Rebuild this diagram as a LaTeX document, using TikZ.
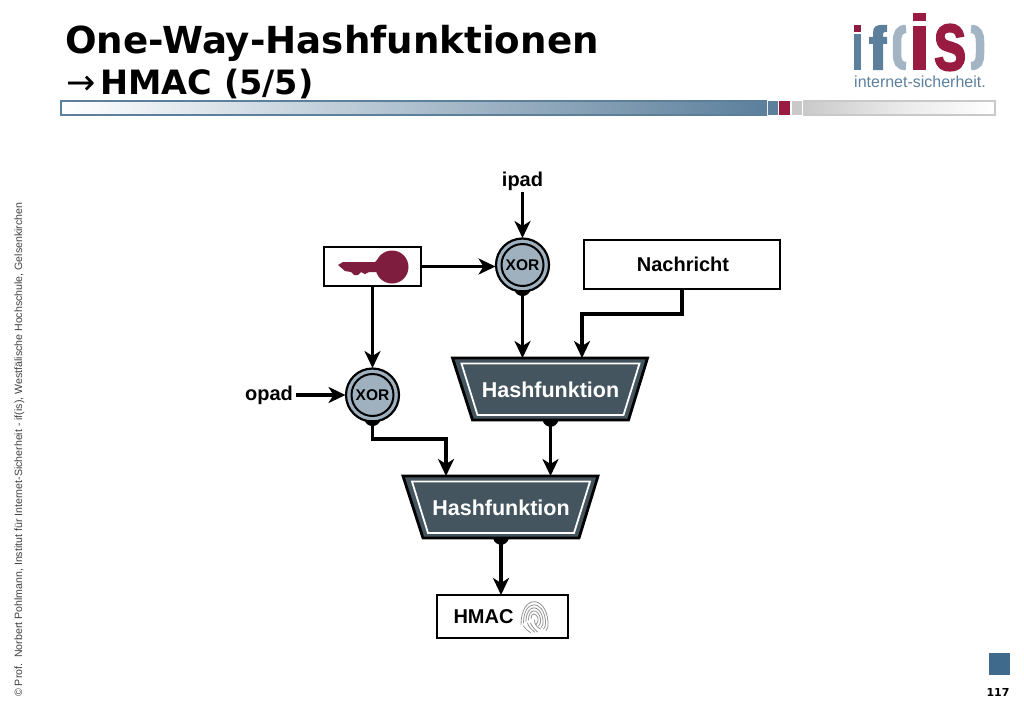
\documentclass[tikz,border=0pt]{standalone}
\usepackage{fontspec}
\setmainfont{Liberation Sans}
\newfontfamily\titlefont{DejaVu Sans}
\newfontfamily\logofont[BoldFeatures={FakeBold=1.5}]{Liberation Sans}
\usetikzlibrary{arrows.meta}
\definecolor{steel}{HTML}{5C7F9C}
\definecolor{steeld}{HTML}{3F6A8C}
\definecolor{crim}{HTML}{9A1B42}
\definecolor{keyc}{HTML}{7F1D3F}
\definecolor{paren}{HTML}{A3B5C4}
\definecolor{hashc}{HTML}{45555F}
\definecolor{xorc}{HTML}{9FB0BF}
\definecolor{barg}{HTML}{C9C9C9}
\tikzset{
  conn/.style={line width=3.6pt,draw=black,-{Stealth[length=17pt,width=16pt,inset=5pt]}},
  plainbox/.style={draw=black,line width=2.4pt,fill=white,inner sep=0pt,outer sep=0pt,anchor=north west},
  lbl/.style={font=\fontsize{20}{20}\selectfont\bfseries,inner sep=0pt},
  hashtxt/.style={font=\fontsize{21.5}{21.5}\selectfont\bfseries,text=white,inner sep=0pt},
  xortxt/.style={font=\fontsize{15.5}{15.5}\selectfont\bfseries,inner sep=0pt,outer sep=0pt},
  foot/.style={fill=black,draw=none},
  finger/.style={draw=black!42,line width=0.8pt,line cap=round},
}
\newcommand{\xorgate}[3]{%
  \fill[xorc] (#2,#3) circle (26);
  \draw[line width=2.2pt] (#2,#3) circle (26.5);
  \draw[line width=2pt] (#2,#3) circle (21);
  \node[xortxt,minimum size=54pt,circle] (#1) at (#2,#3) {XOR};
  \fill[foot] (#2-8,#3+25) .. controls (#2-6,#3+33) and (#2+6,#3+33) .. (#2+8,#3+25) -- cycle;
}
\newcommand{\hashblock}[3]{%
  \begin{scope}[shift={(#2,#3)}]
    \fill[hashc,draw=black,line width=2.8pt,line join=miter] (403,476) -- (598,476) -- (579,538) -- (423,538) -- cycle;
    \draw[white,line width=1.8pt] (412,481.5) -- (590,481.5) -- (574,533) -- (428,533) -- cycle;
    \node[hashtxt] (#1) at (501,508) {Hashfunktion};
    \coordinate (#1top) at (501,476);
    \coordinate (#1bot) at (501,538);
    \fill[foot] (493,538) .. controls (495,547) and (507,547) .. (509,538) -- cycle;
  \end{scope}
}
\begin{document}
\begin{tikzpicture}[x=1pt,y=-1pt]
\useasboundingbox (0,0) rectangle (1024,709);
% title
\node[anchor=base west,inner sep=0pt,font=\titlefont\fontsize{37.2}{37.2}\selectfont\bfseries] (title) at (65,53) {One-Way-Hashfunktionen};
\node[anchor=base west,inner sep=0pt,font=\titlefont\fontsize{33.5}{33.5}\selectfont\bfseries] (subtitle) at (66,94) {{\mdseries\fontsize{35}{35}\selectfont→}\kern5pt HMAC (5/5)};
% bar
\shade[left color=white,right color=steel] (61,101) rectangle (767,115);
\fill[steel] (768,101) rectangle (778,115);
\fill[crim] (779,101) rectangle (790,115);
\fill[barg] (792,101) rectangle (802,115);
\shade[left color=barg,right color=white,middle color=white!60!barg] (803,101) rectangle (995,115);
\draw[steel,line width=1.3pt] (767,101) -- (61,101) -- (61,115) -- (767,115);
\draw[barg,line width=1.3pt] (803,101) -- (995,101) -- (995,115) -- (803,115);
% logo
\fill[steel] (854,34) rectangle (860.5,70);
\fill[keyc!50!crim] (854,25) rectangle (860.5,32);
\fill[steel] (873,70) -- (873,44) -- (869,44) -- (869,37) -- (873,37) -- (873,33) .. controls (873,27) and (876,25) .. (881,25) -- (887,25) -- (887,32) -- (885,32) .. controls (883.5,32) and (883,33) .. (883,35) -- (883,37) -- (887,37) -- (887,44) -- (883,44) -- (883,70) -- cycle;
\draw[paren,line width=8.5pt] (906,29) .. controls (899,29) and (897,34) .. (897,42) -- (897,53) .. controls (897,62) and (899,66) .. (906,66);
\fill[crim] (913,13) rectangle (926,21);
\fill[crim] (913,26) rectangle (926,70);
\node[inner sep=0pt,text=crim,font=\logofont\bfseries] (logos) at (950,47.5) {\resizebox{34pt}{46pt}{s}};
\draw[paren,line width=8.5pt] (971,29) .. controls (978,29) and (980,34) .. (980,42) -- (980,53) .. controls (980,62) and (978,66) .. (971,66);
\node[anchor=base west,inner sep=0pt,text=steeld!85!white,font=\fontsize{16}{16}\selectfont] (logot) at (854,87) {internet-sicherheit.};
% footer
\node[rotate=90,anchor=base west,inner sep=0pt,text=black!75,font=\fontsize{10.6}{10.6}\selectfont] (foot) at (22,697) {© Prof.\ \ Norbert Pohlmann, Institut für Internet-Sicherheit - if(is), Westfälische Hochschule, Gelsenkirchen};
% page
\fill[steeld] (989,653) rectangle (1010,675);
\node[inner sep=0pt,font=\titlefont\fontsize{11}{11}\selectfont\bfseries] (page) at (998,692) {117};
% labels
\node[lbl] (ipad) at (522.5,181.5) {ipad};
\node[lbl] (opad) at (269,395) {opad};
% boxes
\node[plainbox,minimum width=97pt,minimum height=39pt] (key) at (324,247) {};
\node[plainbox,minimum width=196pt,minimum height=49pt,font=\fontsize{20}{20}\selectfont\bfseries] (msg) at (584,240) {\kern2pt Nachricht};
\node[plainbox,minimum width=131pt,minimum height=43pt] (hmacbox) at (437,595) {};
\node[lbl] (hmac) at (483.5,617) {HMAC};
% key glyph
\fill[keyc] (392,267) circle (16.5);
\fill[keyc] (338,265) -- (343,262) -- (375,262) -- (378,259) -- (385,259) -- (385,275) -- (378,272) -- (369,272) -- (365,274) -- (361,272) -- (358,275) -- (354,275) -- (351,272) -- (345,271) -- cycle;
% gates
\xorgate{xa}{522.5}{265}
\xorgate{xb}{372.5}{395}
\hashblock{ha}{49.5}{-118}
\hashblock{hb}{0}{0}
% fingerprint
\begin{scope}[shift={(534.5,617)}]
\foreach \r in {2.5,5,7.5,10,12.5}{
  \draw[finger] ({-\r-1},{\r*0.6}) .. controls ({-\r-1},{-\r*1.8}) and ({\r-1},{-\r*1.8}) .. ({\r+1},{\r*0.4}) .. controls ({\r+1.5},{\r*0.6+3}) and ({\r},{\r*0.6+5}) .. ({\r-1},{\r*0.6+6});
}
\draw[finger] (-7,6) .. controls (-6,10) and (-3,12) .. (0,15);
\draw[finger] (-4,6) .. controls (-3,9) and (0,12) .. (3,15);
\draw[finger] (-11,9) .. controls (-9,12) and (-7,14) .. (-4,15.5);
\draw[finger] (0,3) .. controls (0,7) and (2,10) .. (6,12);
\end{scope}
% connectors
\draw[conn] (ipad.south) ++(0,1) -- (xa.north);
\draw[conn] (key.east) -- (key.east -| xa.west);
\draw[conn] (key.south) -- (xb.north);
\draw[conn] (opad.east) ++(3,0) -- (xb.west);
\draw[conn] (xa.south) -- (xa.south |- hatop);
\draw[conn] (msg.south) -- ++(0,25) -| (582,358);
\draw[conn] (xb.south) -- (372.5,439) -| (446,476);
\draw[conn] (habot) -- (habot |- hbtop);
\draw[conn] (hbbot) -- (hmacbox.north -| hbbot);
\end{tikzpicture}
\end{document}
